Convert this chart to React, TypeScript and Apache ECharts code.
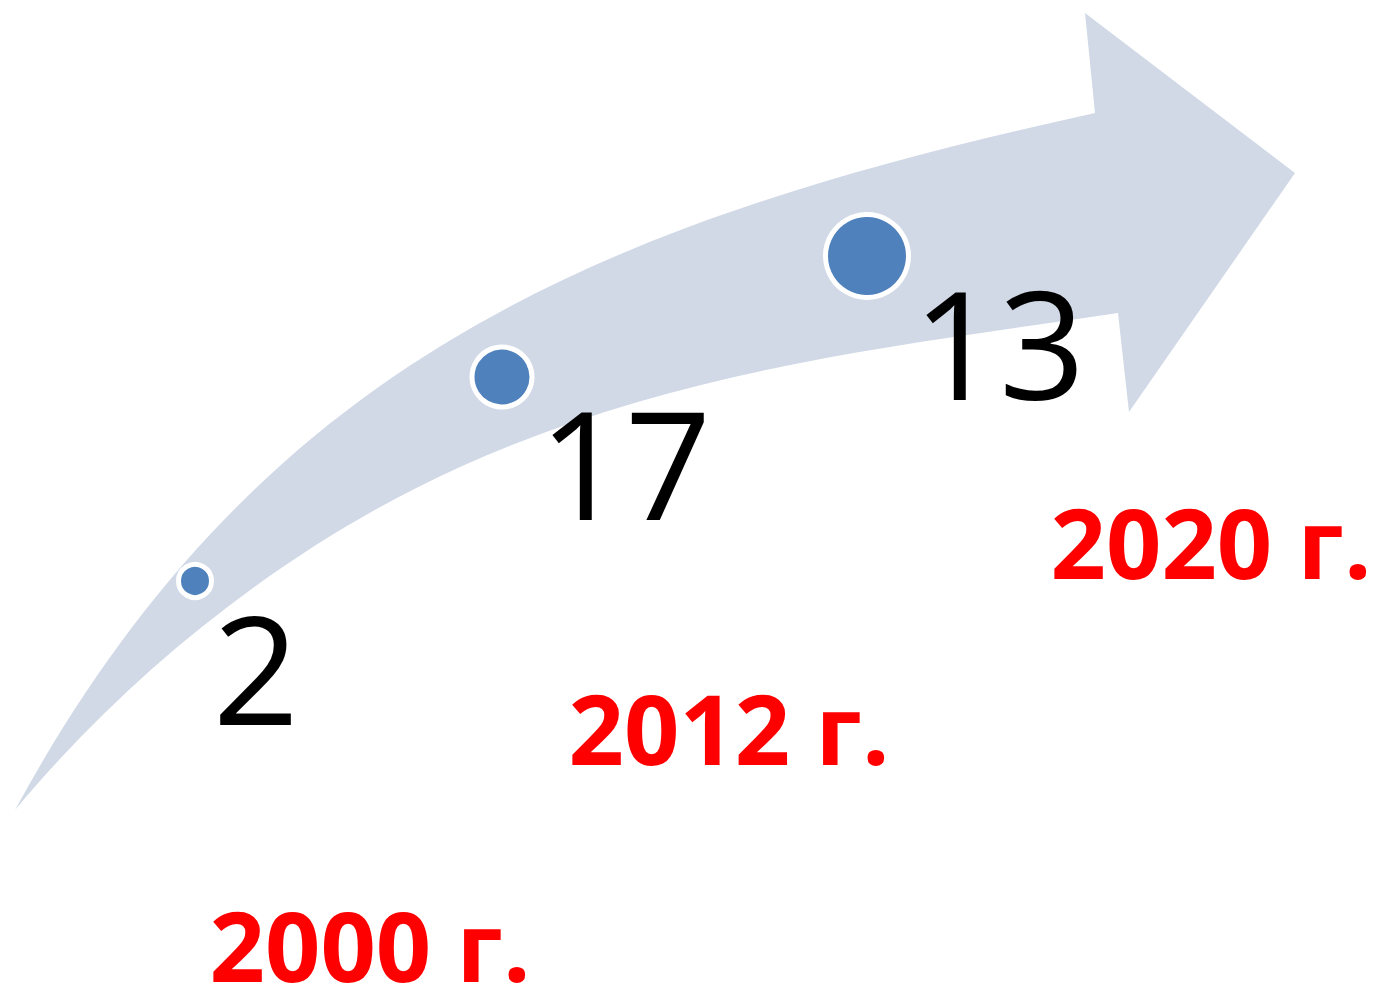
import React, { useEffect, useRef } from "react";
import * as echarts from "echarts";

// ---- data ----
const years = ["2000 г.", "2012 г.", "2020 г."];
const values = [2, 17, 13];

// ---- layout (pixel space of the 1378x993 canvas) ----
const dotX = [195, 502, 867];
const dotY = [581, 377, 256];
const dotSize = [33, 60, 83];
const valueLabelX = [256, 625, 999];
const valueLabelY = [666, 461, 341];
const yearLabelX = [370, 729, 1211];
const yearLabelY = [944, 727, 541];

// curved arrow outline: [command, ...points]
const arrowOutline: [string, number[][]][] = [
  ["M", [[15, 810]]],
  ["C", [[260, 360], [600, 222], [1095, 113]]],
  ["L", [[1085, 13]]],
  ["L", [[1295, 173]]],
  ["L", [[1129, 412]]],
  ["L", [[1118, 313]]],
  ["C", [[898, 346], [680, 368], [460, 467]]],
  ["C", [[300, 539], [140, 660], [15, 810]]],
];

const W = 1378;
const H = 993;

export default function App() {
  const ref = useRef<HTMLDivElement>(null);
  useEffect(() => {
    if (!ref.current) return;
    const chart = echarts.init(ref.current, null, { renderer: "svg" });
    const option: any = {
      animation: false,
      backgroundColor: "#ffffff",
      grid: { left: 0, right: 0, top: 0, bottom: 0 },
      xAxis: { type: "value", min: 0, max: W, show: false },
      yAxis: { type: "value", min: 0, max: H, inverse: true, show: false },
      series: [
        {
          type: "custom",
          z: 1,
          silent: true,
          data: [[0, 0]],
          renderItem: (_params: any, api: any) => {
            let d = "";
            for (const [cmd, pts] of arrowOutline) {
              d += cmd;
              for (const p of pts) {
                const c = api.coord(p);
                d += " " + c[0].toFixed(1) + " " + c[1].toFixed(1);
              }
              d += " ";
            }
            d += "Z";
            return {
              type: "path",
              shape: { pathData: d },
              style: { fill: "#D1D9E7", stroke: "none" },
            };
          },
        },
        {
          type: "scatter",
          z: 2,
          symbol: "circle",
          data: values.map((v, i) => ({
            value: [dotX[i], dotY[i], v],
            symbolSize: dotSize[i],
          })),
          itemStyle: { color: "#4F81BD", borderColor: "#ffffff", borderWidth: 5, opacity: 1 },
        },
        {
          type: "scatter",
          z: 3,
          symbolSize: 0,
          itemStyle: { opacity: 1 },
          data: values.map((v, i) => ({ value: [valueLabelX[i], valueLabelY[i], v] })),
          label: {
            show: true,
            position: [0, 0],
            align: "center",
            verticalAlign: "middle",
            formatter: (p: any) => String(p.value[2]),
            fontFamily: "Open Sans",
            fontSize: 151,
            lineHeight: 130,
            fontWeight: 400,
            color: "#000000",
            opacity: 1,
          },
        },
        {
          type: "scatter",
          z: 3,
          symbolSize: 0,
          itemStyle: { opacity: 1 },
          data: years.map((y, i) => ({ value: [yearLabelX[i], yearLabelY[i]], name: y })),
          label: {
            show: true,
            position: [0, 0],
            align: "center",
            verticalAlign: "middle",
            formatter: (p: any) => p.name,
            fontFamily: "Open Sans",
            fontSize: 97,
            lineHeight: 84,
            fontWeight: 700,
            color: "#FF0000",
            opacity: 1,
          },
        },
      ],
    };
    chart.setOption(option);
    return () => chart.dispose();
  }, []);
  return (
    <div
      ref={ref}
      style={{ position: "absolute", left: 0, top: 0, width: W, height: H }}
    />
  );
}
